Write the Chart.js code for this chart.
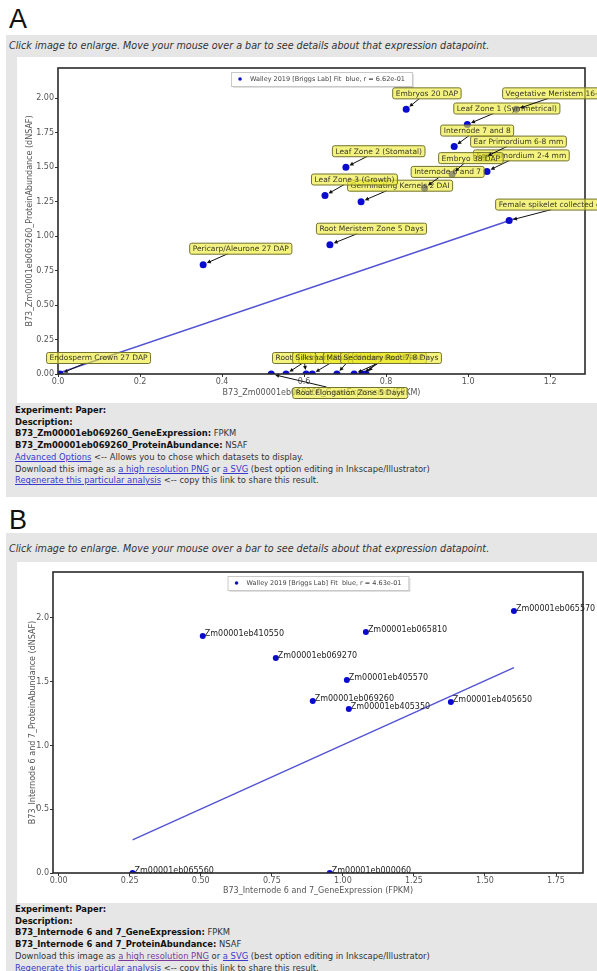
<!DOCTYPE html>
<html>
<head>
<meta charset="utf-8">
<script src="https://cdn.jsdelivr.net/npm/chart.js@4.4.1/dist/chart.umd.min.js"></script>
<style>
  body { margin: 0; width: 597px; height: 971px; position: relative; background: #fff;
         font-family: "DejaVu Sans", sans-serif; overflow: hidden; }
  .tag { position: absolute; left: 9px; font: 27px "Liberation Sans", Arial, sans-serif; color: #111; line-height: 1; }
  .panel { position: absolute; left: 6px; width: 591px; background: #e6e6e6; }
  .hint { position: absolute; left: 3px; font-style: italic; font-size: 9.6px; color: #333; white-space: nowrap; }
  .plot { position: absolute; left: 11px; width: 580px; background: #fff; }
  .info { position: absolute; left: 9px; font-size: 8.4px; line-height: 11.7px; color: #333; white-space: nowrap; }
  .info b { color: #111; }
  .info a { color: #3a3acc; text-decoration: underline; }
  .info a.seen { color: #7a3a9a; }
</style>
</head>
<body>

<div class="tag" style="top:6px">A</div>
<div class="panel" style="top:35px;height:462px">
  <div class="hint" style="top:5px">Click image to enlarge. Move your mouse over a bar to see details about that expression datapoint.</div>
  <div class="plot" style="top:22px;height:346px"><canvas id="chartA" width="580" height="346"></canvas></div>
  <div class="info" style="top:370px">
    <b>Experiment: Paper:</b><br>
    <b>Description:</b><br>
    <b>B73_Zm00001eb069260_GeneExpression:</b> FPKM<br>
    <b>B73_Zm00001eb069260_ProteinAbundance:</b> NSAF<br>
    <a>Advanced Options</a> &lt;-- Allows you to chose which datasets to display.<br>
    Download this image as <a>a high resolution PNG</a> or <a>a SVG</a> (best option editing in Inkscape/Illustrator)<br>
    <a>Regenerate this particular analysis</a> &lt;-- copy this link to share this result.
  </div>
</div>

<div class="tag" style="top:507px">B</div>
<div class="panel" style="top:533px;height:438px">
  <div class="hint" style="top:10px">Click image to enlarge. Move your mouse over a bar to see details about that expression datapoint.</div>
  <div class="plot" style="top:29px;height:341px"><canvas id="chartB" width="580" height="341"></canvas></div>
  <div class="info" style="top:371px">
    <b>Experiment: Paper:</b><br>
    <b>Description:</b><br>
    <b>B73_Internode 6 and 7_GeneExpression:</b> FPKM<br>
    <b>B73_Internode 6 and 7_ProteinAbundance:</b> NSAF<br>
    Download this image as <a class="seen">a high resolution PNG</a> or <a>a SVG</a> (best option editing in Inkscape/Illustrator)<br>
    <a>Regenerate this particular analysis</a> &lt;-- copy this link to share this result.
  </div>
</div>

<script>
// ---- panel A: Zm00001eb069260 across the Walley 2019 tissues ----
const tissuesA = [
  "Germinating Kernels 2 DAI", "Leaf Zone 3 (Growth)", "Leaf Zone 2 (Stomatal)",
  "Root Meristem Zone 5 Days", "Pericarp/Aleurone 27 DAP", "Endosperm Crown 27 DAP",
  "Root Cortex 5 Days", "Primary Root 5 Days", "Silks", "Mature Pollen",
  "Endosperm 12 DAP", "Mature Leaf 8", "Secondary Root 7-8 Days",
  "Root Elongation Zone 5 Days", "Internode 6 and 7", "Ear Primordium 2-4 mm",
  "Embryo 38 DAP", "Ear Primordium 6-8 mm", "Internode 7 and 8",
  "Leaf Zone 1 (Symmetrical)", "Embryos 20 DAP", "Vegetative Meristem 16-19 Day",
  "Female spikelet collected on day as silk"
];
const geneExprA = [0.739, 0.651, 0.702, 0.663, 0.354, 0.005, 0.556, 0.62, 0.605, 0.68,
  0.741, 0.751, 0.722, 0.52, 0.894, 1.046, 0.961, 1.039, 0.966, 0.998, 0.849, 1.117, 1.100];
const protAbundA = [1.25, 1.295, 1.50, 0.938, 0.793, 0, 0, 0, 0, 0,
  0, 0, 0, 0, 1.35, 1.47, 1.45, 1.57, 1.65, 1.81, 1.92, 1.92, 1.113];
const fitXA = [0, 1.117];
const fitYA = [0.005, 1.13];
const xTicksA = [0, 0.2, 0.4, 0.6, 0.8, 1.0, 1.2];
const yTicksA = [0, 0.25, 0.5, 0.75, 1.0, 1.25, 1.5, 1.75, 2.0];

// ---- panel B: Internode 6 and 7, several genes ----
const genesB = ["Zm00001eb065570", "Zm00001eb410550", "Zm00001eb065810", "Zm00001eb069270",
  "Zm00001eb405570", "Zm00001eb069260", "Zm00001eb405350", "Zm00001eb405650",
  "Zm00001eb065560", "Zm00001eb000060"];
const geneExprB = [1.602, 0.507, 1.081, 0.764, 1.014, 0.894, 1.021, 1.380, 0.26, 0.954];
const protAbundB = [2.055, 1.859, 1.890, 1.686, 1.514, 1.349, 1.286, 1.341, 0, 0];
const fitXB = [0.26, 1.602];
const fitYB = [0.26, 1.61];
const xTicksB = [0, 0.25, 0.5, 0.75, 1.0, 1.25, 1.5, 1.75];
const yTicksB = [0, 0.5, 1.0, 1.5, 2.0];

// where each yellow tag sits relative to its point (px), default up-left
const tagOffsetA = tissuesA.map(t => t === "Root Elongation Zone 5 Days" ? [21, 13] : [-14, -22]);

const FONT = '"DejaVu Sans", sans-serif';

function pts(xs, ys) {
  return xs.map((x, i) => ({ x: x, y: ys[i] }));
}

// thick matplotlib-like frame round the plot area
const framePlugin = {
  id: 'frame',
  afterDatasetsDraw(chart) {
    const { ctx, chartArea: a } = chart;
    ctx.save();
    ctx.strokeStyle = '#2a2a2a';
    ctx.lineWidth = 1.6;
    ctx.strokeRect(a.left, a.top, a.right - a.left, a.bottom - a.top);
    ctx.restore();
  }
};

function legendPlugin(text) {
  return {
    id: 'fitLegend',
    afterDraw(chart) {
      const { ctx, chartArea: a } = chart;
      ctx.save();
      ctx.font = '6.5px ' + FONT;
      const w = ctx.measureText(text).width + 26, h = 14;
      const x = (a.left + a.right) / 2 - w / 2, y = a.top + 4;
      ctx.fillStyle = 'rgba(0,0,0,0.12)';
      ctx.fillRect(x + 2, y + 2, w, h);
      ctx.fillStyle = '#fff';
      ctx.strokeStyle = '#c8c8c8';
      ctx.lineWidth = 1;
      ctx.fillRect(x, y, w, h);
      ctx.strokeRect(x + 0.5, y + 0.5, w, h);
      ctx.fillStyle = '#1010c8';
      ctx.beginPath();
      ctx.arc(x + 9, y + h / 2, 1.8, 0, Math.PI * 2);
      ctx.fill();
      ctx.fillStyle = '#444';
      ctx.textBaseline = 'middle';
      ctx.fillText(text, x + 19, y + h / 2 + 0.5);
      ctx.restore();
    }
  };
}

// yellow annotation boxes with little arrows (panel A)
function boxTagPlugin(names, offsets) {
  return {
    id: 'boxTags',
    afterDatasetsDraw(chart) {
      const ctx = chart.ctx;
      const meta = chart.getDatasetMeta(0).data;
      ctx.save();
      ctx.font = '7.5px ' + FONT;
      ctx.textBaseline = 'middle';
      names.forEach((name, i) => {
        const p = meta[i];
        const w = ctx.measureText(name).width + 6, h = 11;
        const bx = p.x + offsets[i][0], by = p.y + offsets[i][1];
        const cx = bx + w / 2, cy = by + h / 2;
        const dx = p.x - cx, dy = p.y - cy;
        const len = Math.hypot(dx, dy);
        const t0 = Math.min(dx ? (w / 2) / Math.abs(dx) : 9, dy ? (h / 2) / Math.abs(dy) : 9);
        const t1 = 1 - 4 / len;
        if (t1 > t0) {
          const sx = cx + dx * t0, sy = cy + dy * t0;
          const ex = cx + dx * t1, ey = cy + dy * t1;
          const ux = dx / len, uy = dy / len;
          ctx.strokeStyle = '#111';
          ctx.fillStyle = '#111';
          ctx.lineWidth = 1;
          ctx.beginPath();
          ctx.moveTo(sx, sy);
          ctx.lineTo(ex - ux * 3, ey - uy * 3);
          ctx.stroke();
          ctx.beginPath();
          ctx.moveTo(ex, ey);
          ctx.lineTo(ex - ux * 4 - uy * 2, ey - uy * 4 + ux * 2);
          ctx.lineTo(ex - ux * 4 + uy * 2, ey - uy * 4 - ux * 2);
          ctx.closePath();
          ctx.fill();
        }
        ctx.fillStyle = 'rgba(238,234,50,0.62)';
        ctx.strokeStyle = '#74742e';
        ctx.lineWidth = 1;
        ctx.beginPath();
        ctx.roundRect(bx + 0.5, by + 0.5, w, h, 2);
        ctx.fill();
        ctx.stroke();
        ctx.fillStyle = '#3a3a2a';
        ctx.fillText(name, bx + 3.5, by + h / 2 + 1);
      });
      ctx.restore();
    }
  };
}

// plain text labels to the right of each point (panel B)
function textTagPlugin(names) {
  return {
    id: 'textTags',
    afterDatasetsDraw(chart) {
      const ctx = chart.ctx;
      const meta = chart.getDatasetMeta(0).data;
      ctx.save();
      ctx.font = '8px ' + FONT;
      ctx.fillStyle = '#222';
      ctx.textBaseline = 'middle';
      names.forEach((name, i) => {
        ctx.fillText(name, meta[i].x + 2, meta[i].y - 2);
      });
      ctx.restore();
    }
  };
}

function makeChart(id, o) {
  const tickFont = { size: 8, family: FONT };
  const titleFont = { size: 8, family: FONT };
  return new Chart(document.getElementById(id), {
    type: 'scatter',
    data: {
      datasets: [
        {
          label: 'Walley 2019 [Briggs Lab]',
          data: pts(o.x, o.y),
          backgroundColor: '#0b0bcf',
          borderWidth: 0,
          pointRadius: o.radius,
          order: 1
        },
        {
          type: 'line',
          label: 'Fit',
          data: pts(o.fitX, o.fitY),
          borderColor: '#5252d4',
          borderWidth: 1.4,
          pointRadius: 0,
          fill: false,
          order: 2
        }
      ]
    },
    options: {
      responsive: false,
      animation: false,
      devicePixelRatio: 1,
      layout: { padding: { top: o.padTop, right: o.padRight, left: 0, bottom: 0 } },
      plugins: { legend: { display: false }, tooltip: { enabled: false } },
      scales: {
        x: {
          type: 'linear',
          min: o.xMin, max: o.xMax,
          afterBuildTicks: s => { s.ticks = o.xTicks.map(v => ({ value: v })); },
          afterFit: s => { s.height = o.xAxisH; },
          border: { display: false },
          grid: { drawOnChartArea: false, drawTicks: true, tickLength: 3, color: '#333' },
          ticks: { font: tickFont, color: '#555', padding: 0, maxRotation: 0, autoSkip: false,
                   callback: v => v.toFixed(o.xDec) },
          title: { display: true, text: o.xTitle, font: titleFont, color: '#555',
                   padding: { top: 0, bottom: o.xTitlePad } }
        },
        y: {
          type: 'linear',
          min: 0, max: o.yMax,
          afterBuildTicks: s => { s.ticks = o.yTicks.map(v => ({ value: v })); },
          afterFit: s => { s.width = o.yAxisW; },
          border: { display: false },
          grid: { drawOnChartArea: false, drawTicks: true, tickLength: 3, color: '#333' },
          ticks: { font: tickFont, color: '#555', padding: 1, autoSkip: false,
                   callback: v => v.toFixed(o.yDec) },
          title: { display: true, text: o.yTitle, font: titleFont, color: '#555',
                   padding: { top: o.yTitlePad, bottom: 0 } }
        }
      }
    },
    plugins: [framePlugin, o.tags, legendPlugin(o.legend)]
  });
}

makeChart('chartA', {
  x: geneExprA, y: protAbundA, fitX: fitXA, fitY: fitYA, radius: 3.5,
  xMin: 0, xMax: 1.285, yMax: 2.22, xTicks: xTicksA, yTicks: yTicksA, xDec: 1, yDec: 2,
  padTop: 11, padRight: 12, xAxisH: 29, yAxisW: 41, xTitlePad: 5.2, yTitlePad: 8.2,
  xTitle: 'B73_Zm00001eb069260_GeneExpression (FPKM)',
  yTitle: 'B73_Zm00001eb069260_ProteinAbundance (dNSAF)',
  legend: 'Walley 2019 [Briggs Lab] Fit  blue, r = 6.62e-01',
  tags: boxTagPlugin(tissuesA, tagOffsetA)
});

makeChart('chartB', {
  x: geneExprB, y: protAbundB, fitX: fitXB, fitY: fitYB, radius: 3,
  xMin: -0.02, xMax: 1.845, yMax: 2.36, xTicks: xTicksB, yTicks: yTicksB, xDec: 2, yDec: 1,
  padTop: 10, padRight: 14, xAxisH: 30, yAxisW: 36, xTitlePad: 7.2, yTitlePad: 11.2,
  xTitle: 'B73_Internode 6 and 7_GeneExpression (FPKM)',
  yTitle: 'B73_Internode 6 and 7_ProteinAbundance (dNSAF)',
  legend: 'Walley 2019 [Briggs Lab] Fit  blue, r = 4.63e-01',
  tags: textTagPlugin(genesB)
});
</script>
</body>
</html>
